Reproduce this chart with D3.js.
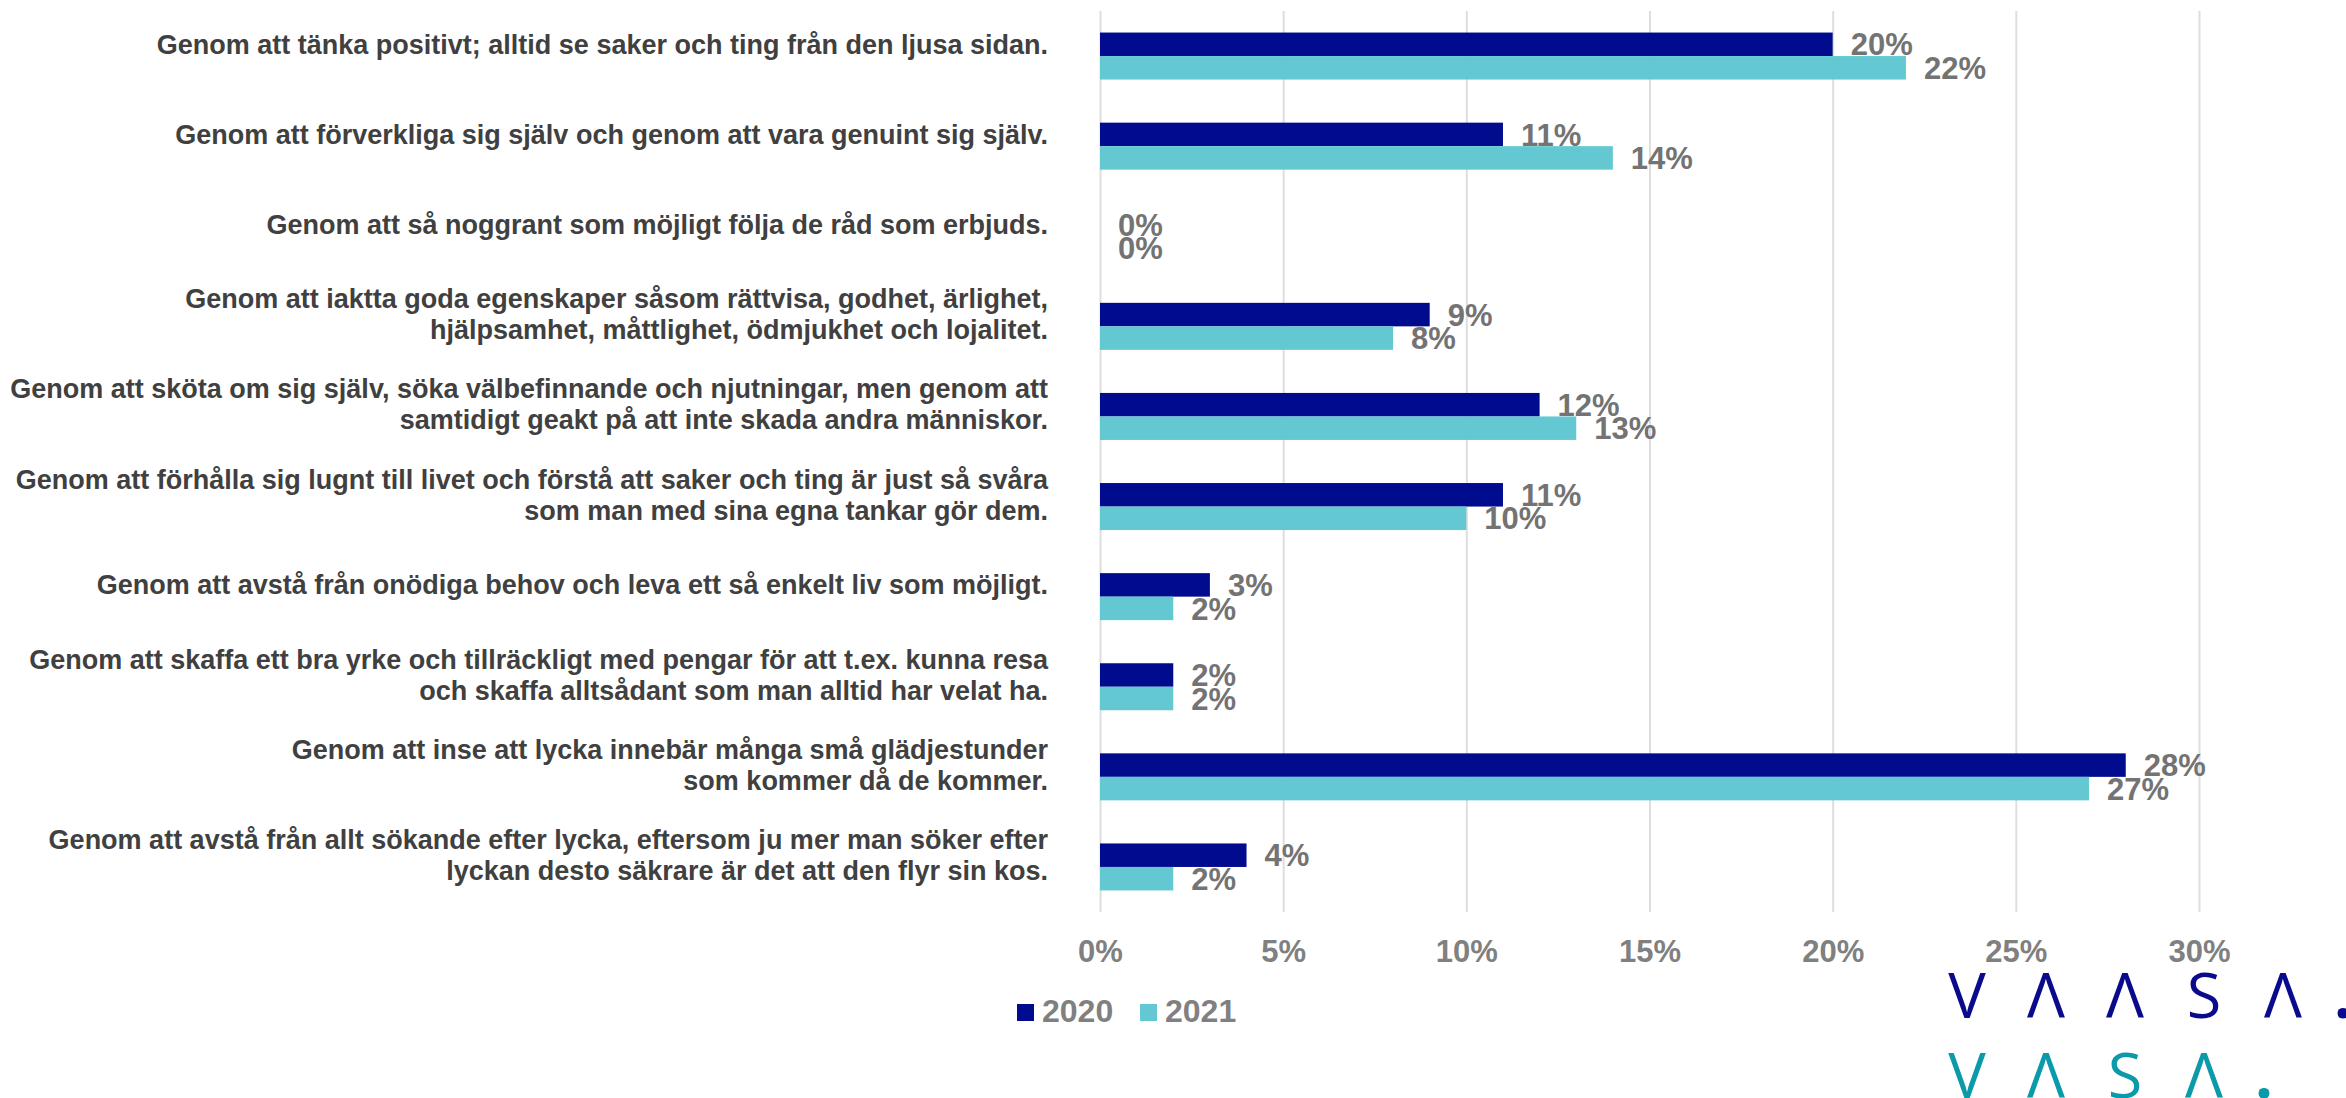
<!DOCTYPE html>
<html>
<head>
<meta charset="utf-8">
<script src="https://cdn.jsdelivr.net/npm/d3@7"></script>
<style>
  html, body { margin: 0; padding: 0; background: #ffffff; }
  svg { display: block; }
</style>
</head>
<body>
<script>
// ---- Data ----
const categories = [
  "Genom att tänka positivt; alltid se saker och ting från den ljusa sidan.",
  "Genom att förverkliga sig själv och genom att vara genuint sig själv.",
  "Genom att så noggrant som möjligt följa de råd som erbjuds.",
  "Genom att iaktta goda egenskaper såsom rättvisa, godhet, ärlighet,\nhjälpsamhet, måttlighet, ödmjukhet och lojalitet.",
  "Genom att sköta om sig själv, söka välbefinnande och njutningar, men genom att\nsamtidigt geakt på att inte skada andra människor.",
  "Genom att förhålla sig lugnt till livet och förstå att saker och ting är just så svåra\nsom man med sina egna tankar gör dem.",
  "Genom att avstå från onödiga behov och leva ett så enkelt liv som möjligt.",
  "Genom att skaffa ett bra yrke och tillräckligt med pengar för att t.ex. kunna resa\noch skaffa alltsådant som man alltid har velat ha.",
  "Genom att inse att lycka innebär många små glädjestunder\nsom kommer då de kommer.",
  "Genom att avstå från allt sökande efter lycka, eftersom ju mer man söker efter\nlyckan desto säkrare är det att den flyr sin kos."
];
const seriesNames = ["2020", "2021"];
const values2020 = [20, 11, 0, 9, 12, 11, 3, 2, 28, 4];
const values2021 = [22, 14, 0, 8, 13, 10, 2, 2, 27, 2];
const tickValues = [0, 5, 10, 15, 20, 25, 30];
const logoRow1 = ["V", "Λ", "Λ", "S", "Λ"];
const logoRow2 = ["V", "Λ", "S", "Λ"];

// ---- Layout ----
const W = 2346, H = 1098;
const plot = { left: 1100, right: 2199, top: 11, bottom: 912 };
const colors = { "2020": "#000b8e", "2021": "#64c8d3" };
const fontFamily = "'Liberation Sans', Arial, Helvetica, sans-serif";

const svg = d3.select("body").append("svg")
  .attr("width", W).attr("height", H)
  .attr("viewBox", `0 0 ${W} ${H}`);

const x = d3.scaleLinear().domain([0, 30]).range([plot.left, plot.right]);
const y = d3.scaleBand().domain(d3.range(categories.length))
  .range([plot.top, plot.bottom]).paddingInner(0).paddingOuter(0);
const ySub = d3.scaleBand().domain(seriesNames)
  .range([0, y.bandwidth()]).paddingInner(0).paddingOuter(0.917);

// Gridlines
const grid = svg.append("g")
  .attr("transform", `translate(0,${plot.bottom})`)
  .call(d3.axisBottom(x).tickValues(tickValues)
    .tickSize(-(plot.bottom - plot.top)).tickFormat(""));
grid.select(".domain").remove();
grid.selectAll(".tick line").attr("stroke", "#dedede").attr("stroke-width", 2);

// Tick labels
const axis = svg.append("g")
  .attr("transform", `translate(0,${plot.bottom})`)
  .call(d3.axisBottom(x).tickValues(tickValues).tickSize(0).tickPadding(28)
    .tickFormat(d => d + "%"));
axis.select(".domain").remove();
axis.selectAll(".tick text")
  .attr("fill", "#808080")
  .style("font-family", fontFamily)
  .style("font-weight", "bold")
  .style("font-size", "31px");

// Bars
const rows = categories.map((c, i) => ({
  i,
  vals: [{ s: "2020", v: values2020[i] }, { s: "2021", v: values2021[i] }]
}));

const rowG = svg.append("g").selectAll("g").data(rows).join("g")
  .attr("transform", d => `translate(0,${y(d.i)})`);

rowG.selectAll("rect").data(d => d.vals).join("rect")
  .attr("x", x(0))
  .attr("y", d => ySub(d.s))
  .attr("width", d => x(d.v) - x(0))
  .attr("height", ySub.bandwidth())
  .attr("fill", d => colors[d.s]);

rowG.selectAll("text.val").data(d => d.vals).join("text")
  .attr("class", "val")
  .attr("x", d => x(d.v) + 18)
  .attr("y", d => ySub(d.s) + ySub.bandwidth() / 2)
  .attr("dy", "0.36em")
  .attr("fill", "#737373")
  .style("font-family", fontFamily)
  .style("font-weight", "bold")
  .style("font-size", "31px")
  .text(d => d.v + "%");

// Category labels
const lineH = 31;
svg.append("g").selectAll("text").data(categories).join("text")
  .attr("text-anchor", "end")
  .attr("fill", "#404040")
  .style("font-family", fontFamily)
  .style("font-weight", "bold")
  .style("font-size", "27px")
  .each(function (d, i) {
    const lines = d.split("\n");
    const cy = y(i) + y.bandwidth() / 2 - 12;
    const startY = cy - (lines.length - 1) * lineH / 2;
    d3.select(this).selectAll("tspan").data(lines).join("tspan")
      .attr("x", 1048)
      .attr("y", (l, k) => startY + k * lineH)
      .attr("dy", "0.35em")
      .text(l => l);
  });

// Legend
const legend = svg.append("g").attr("transform", "translate(1017,1004)");
const legItems = legend.selectAll("g").data(seriesNames).join("g")
  .attr("transform", (d, i) => `translate(${i * 123},0)`);
legItems.append("rect").attr("width", 17).attr("height", 17)
  .attr("fill", d => colors[d]);
legItems.append("text")
  .attr("x", 25).attr("y", 18)
  .attr("fill", "#808080")
  .style("font-family", fontFamily)
  .style("font-weight", "bold")
  .style("font-size", "32px")
  .text(d => d);

// Logo
function drawLogo(letters, color, baseline) {
  const g = svg.append("g");
  const step = 79;
  const x0 = 1967;
  g.selectAll("text").data(letters).join("text")
    .attr("x", (d, i) => x0 + i * step)
    .attr("y", baseline)
    .attr("text-anchor", "middle")
    .attr("fill", color)
    .style("font-family", "'Open Sans', 'Noto Sans', sans-serif")
    .style("font-weight", 400)
    .style("font-size", "63px")
    .text(d => d);
  g.append("text")
    .attr("x", x0 + (letters.length - 1) * step + 60)
    .attr("y", baseline)
    .attr("text-anchor", "middle")
    .attr("fill", color)
    .style("font-family", "'Open Sans', 'Noto Sans', sans-serif")
    .style("font-weight", 700)
    .style("font-size", "63px")
    .text(".");
}
drawLogo(logoRow1, "#0a0a8c", 1018);
drawLogo(logoRow2, "#0a9aaa", 1098);
</script>
</body>
</html>
